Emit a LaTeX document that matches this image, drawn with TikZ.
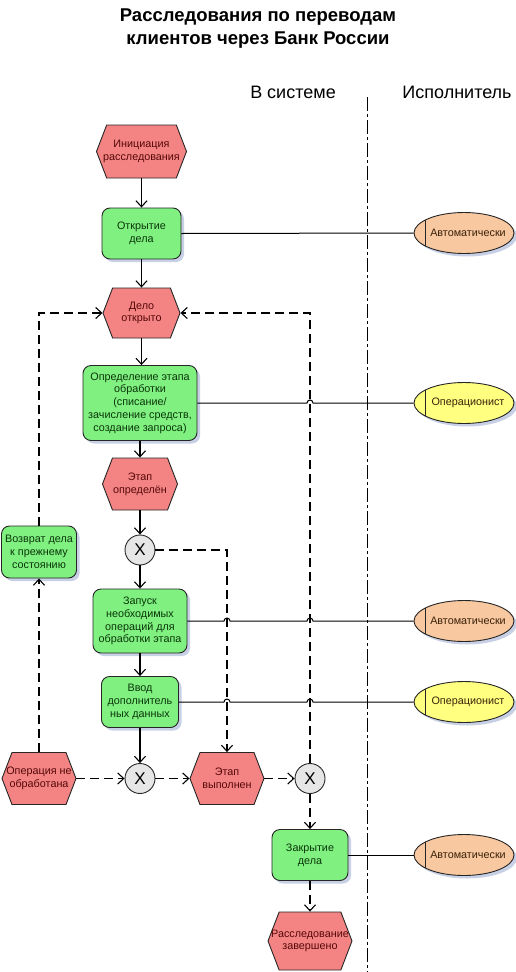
\documentclass[tikz,border=0pt]{standalone}
\usepackage{fontspec}
\setmainfont{Liberation Sans}
\usetikzlibrary{arrows.meta,shapes.symbols,shapes.geometric,shadows}
\definecolor{evfill}{HTML}{F48484}
\definecolor{evtext}{HTML}{560808}
\definecolor{fnfill}{HTML}{80F080}
\definecolor{fntext}{HTML}{0A360A}
\definecolor{autofill}{HTML}{F8C8A0}
\definecolor{opfill}{HTML}{FFFF80}
\definecolor{roletext}{HTML}{3A2008}
\definecolor{xorfill}{HTML}{E6E6E6}
\definecolor{shadowc}{HTML}{C8D0E6}
\begin{document}
\begin{tikzpicture}[x=1pt,y=-1pt,
  nodefont/.style={font=\fontsize{10.8}{12.7}\selectfont},
  evt/.style={signal, signal to=west and east, signal pointer angle=138,
    draw=black!85, line width=0.9pt, fill=evfill, inner sep=0pt,
    label={[nodefont, text=evtext, align=center]center:{#1}}},
  fn/.style={rectangle, rounded corners=8pt, draw=black!85, line width=0.9pt,
    fill=fnfill, text=fntext, align=center, inner sep=0pt, nodefont,
    drop shadow={shadow xshift=3pt, shadow yshift=-3pt, fill=shadowc, opacity=1}},
  xor/.style={circle, draw=black!85, line width=0.9pt, fill=xorfill,
    minimum size=30pt, inner sep=0pt, font=\fontsize{17}{17}\selectfont},
  role/.style={ellipse, draw=black!85, line width=0.9pt, minimum width=100pt,
    minimum height=41pt, inner sep=0pt,
    drop shadow={shadow xshift=3pt, shadow yshift=-3pt, fill=shadowc, opacity=1},
    label={[nodefont, text=roletext, xshift=4pt]center:{#1}}},
  flow/.style={draw=black, line width=1.1pt, -{Straight Barb[length=6pt,width=11pt]}},
  dflow/.style={flow, dash pattern=on 9pt off 5pt},
  link/.style={draw=black, line width=1pt},
  lane/.style={font=\fontsize{18}{20}\selectfont}
]
\useasboundingbox (0,0) rectangle (515,972);

% title and lanes
\node[align=center, font=\bfseries\fontsize{18.5}{23}\selectfont] (title) at (258,29)
  {Расследования по переводам\\клиентов через Банк России};
\node[lane] (lane1) at (293,92) {В системе};
\node[lane] (lane2) at (457,92) {Исполнитель};
\draw[line width=0.8pt, dash pattern=on 14pt off 3pt on 3pt off 3pt] (367,97) -- (367,972);

% nodes
\node[evt={Инициация\\расследования}, minimum width=90pt, minimum height=53pt] (e1) at (141.5,151.5) {};
\node[fn, minimum width=79pt, minimum height=51pt] (f1) at (141.5,233.5) {Открытие\\дела};
\node[evt={Дело\\открыто}, minimum width=77pt, minimum height=50pt] (e2) at (141.5,313) {};
\node[fn, minimum width=114pt, minimum height=75pt] (f2) at (140,403) {Определение этапа\\обработки\\(списание/\\зачисление средств,\\создание запроса)};
\node[evt={Этап\\определён}, minimum width=75pt, minimum height=52pt] (e3) at (140,484) {};
\node[xor] (x1) at (140,550) {X};
\node[fn, minimum width=75pt, minimum height=52pt] (f3) at (39,552) {Возврат дела\\к прежнему\\состоянию};
\node[fn, minimum width=94pt, minimum height=64pt] (f4) at (140,621) {Запуск\\необходимых\\операций для\\обработки этапа};
\node[fn, minimum width=77pt, minimum height=51pt] (f5) at (140,702) {Ввод\\дополнитель\\ных данных};
\node[evt={Операция не\\обработана}, minimum width=74pt, minimum height=52pt] (e4) at (39,778.5) {};
\node[xor] (x2) at (140,778.5) {X};
\node[evt={Этап\\выполнен}, minimum width=74pt, minimum height=52pt] (e5) at (227,778.5) {};
\node[xor] (x3) at (310,778.5) {X};
\node[fn, minimum width=76pt, minimum height=51pt] (f6) at (310,855) {Закрытие\\дела};
\node[evt={Расследование\\завершено}, minimum width=84pt, minimum height=58pt] (e6) at (310,941) {};

% roles
\node[role={Автоматически}, fill=autofill] (r1) at (464,233) {};
\node[role={Операционист}, fill=opfill] (r2) at (464,403) {};
\node[role={Автоматически}, fill=autofill] (r3) at (464,621) {};
\node[role={Операционист}, fill=opfill] (r4) at (464,702) {};
\node[role={Автоматически}, fill=autofill] (r5) at (464,855) {};
\foreach \yy in {233,403,621,702,855} {
  \draw[line width=0.9pt, black!85] (425,\yy-13) -- (425,\yy+13);
}

% control flow
\draw[flow] (e1.south) -- (f1.north);
\draw[flow] (f1.south) -- (e2.north);
\draw[flow] (e2.south) -- (e2.south |- f2.north);
\draw[flow] (f2.south) -- (e3.north);
\draw[flow] (e3.south) -- (x1.north);
\draw[flow] (x1.south) -- (f4.north);
\draw[flow] (f4.south) -- (f5.north);
\draw[flow] (f5.south) -- (x2.north);
\draw[dflow] (f3.north) |- (e2.west);
\draw[dflow] (e4.north) -- (f3.south);
\draw[dflow] (x3.north) |- (e2.east);
\draw[dflow] (x1.east) -| (e5.north);
\draw[dflow] (e4.east) -- (x2.west);
\draw[dflow] (x2.east) -- (e5.west);
\draw[dflow] (e5.east) -- (x3.west);
\draw[dflow] (x3.south) -- (f6.north);
\draw[dflow] (f6.south) -- (e6.north);

% role links
\draw[link] (f1.east) -- (r1.west);
\draw[link] (f2.east) -- (307,403) arc[start angle=180, end angle=0, radius=3pt] -- (r2.west);
\draw[link] (f4.east) -- (224,621) arc[start angle=180, end angle=0, radius=3pt]
  -- (307,621) arc[start angle=180, end angle=0, radius=3pt] -- (r3.west);
\draw[link] (f5.east) -- (224,702) arc[start angle=180, end angle=0, radius=3pt]
  -- (307,702) arc[start angle=180, end angle=0, radius=3pt] -- (r4.west);
\draw[link] (f6.east) -- (r5.west);
\end{tikzpicture}
\end{document}
